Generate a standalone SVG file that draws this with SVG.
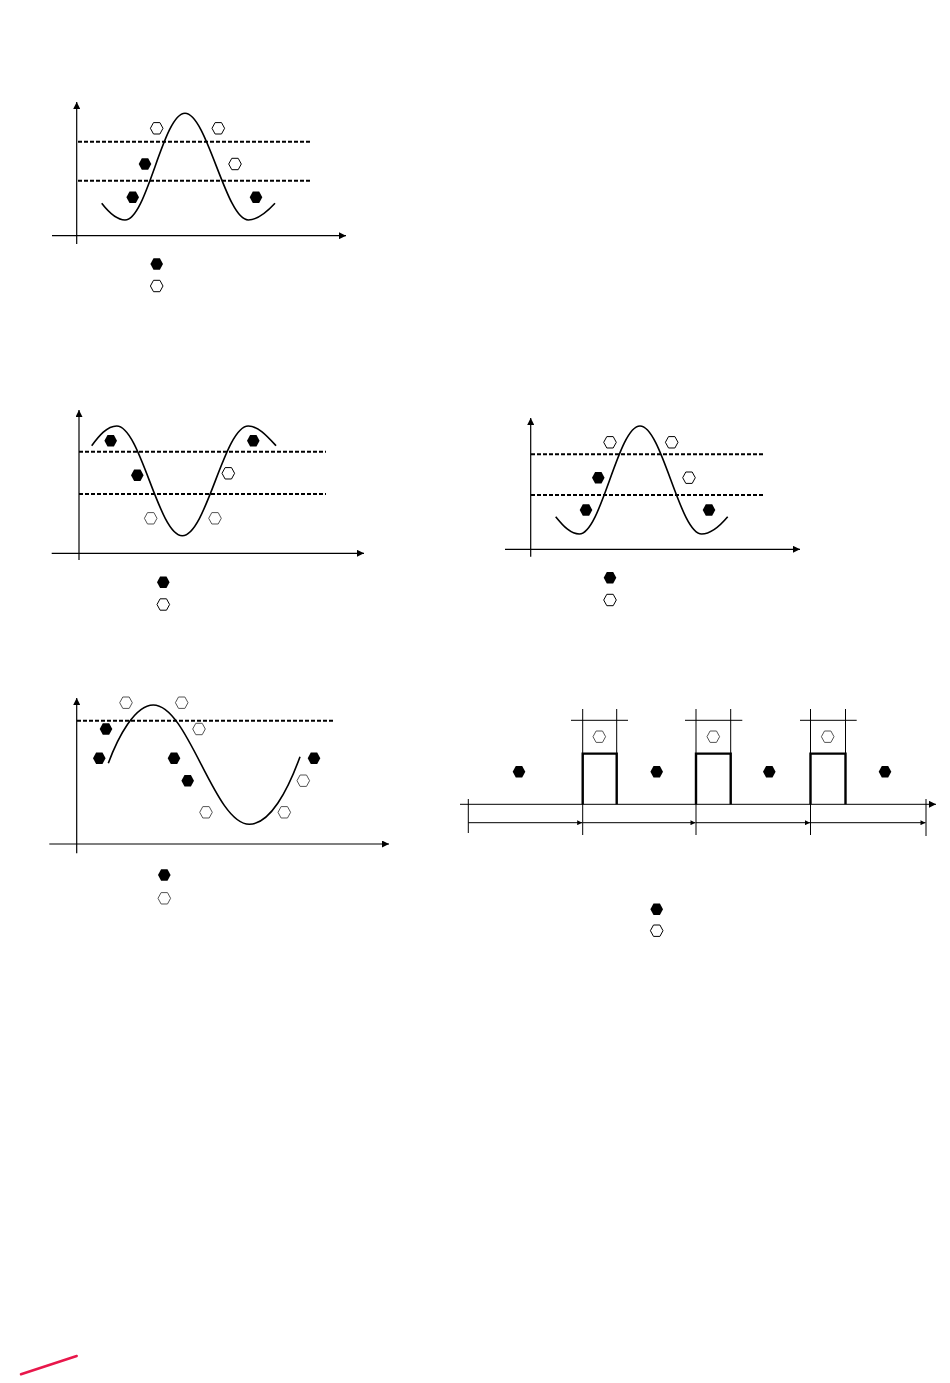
<svg xmlns="http://www.w3.org/2000/svg" xmlns:xlink="http://www.w3.org/1999/xlink" width="950" height="1383" viewBox="0 0 950 1383">
<style>
.ax{stroke:#000;stroke-width:1.2;fill:none}
.dash{stroke:#000;stroke-width:2;stroke-dasharray:4 2;fill:none}
.crv{stroke:#000;stroke-width:1.6;fill:none}
.thin{stroke:#000;stroke-width:1;fill:none}
.thick{stroke:#000;stroke-width:2.4;fill:none}
</style>
<defs>
<polygon id="hex" points="-6.3,0 -3.2,-5.7 3.2,-5.7 6.3,0 3.2,5.7 -3.2,5.7"/>
<marker id="ar" viewBox="0 0 10 10" refX="10" refY="5" markerWidth="8" markerHeight="7" markerUnits="userSpaceOnUse" orient="auto"><path d="M0,0 L10,5 L0,10 z" fill="#000"/></marker>
<marker id="ars" viewBox="0 0 10 10" refX="10" refY="5" markerWidth="7" markerHeight="5" markerUnits="userSpaceOnUse" orient="auto"><path d="M0,0 L10,5 L0,10 z" fill="#000"/></marker>
</defs>
<rect width="950" height="1383" fill="#fff"/>

<g id="chart1">
<line class="ax" x1="76.7" y1="244" x2="76.7" y2="102" marker-end="url(#ar)"/>
<line class="ax" x1="52" y1="235.7" x2="346" y2="235.7" marker-end="url(#ar)"/>
<line class="dash" x1="78" y1="141.7" x2="310" y2="141.7"/>
<line class="dash" x1="78" y1="180.7" x2="310" y2="180.7"/>
<path class="crv" d="M101.7,203.3 C110,214 117,220 125,220 C147,220 163,113.3 185,113.3 C207,113.3 226,220 248.3,220 C256,220 266,213 275,203.3"/>
<use xlink:href="#hex" x="156.7" y="128.3" fill="#fff" stroke="#000"/>
<use xlink:href="#hex" x="218.3" y="128.3" fill="#fff" stroke="#000"/>
<use xlink:href="#hex" x="145" y="164" fill="#000"/>
<use xlink:href="#hex" x="235" y="164" fill="#fff" stroke="#000"/>
<use xlink:href="#hex" x="132.7" y="197.3" fill="#000"/>
<use xlink:href="#hex" x="256" y="197.3" fill="#000"/>
<use xlink:href="#hex" x="156.7" y="264" fill="#000"/>
<use xlink:href="#hex" x="156.7" y="286" fill="#fff" stroke="#000"/>
</g>

<g id="chart2">
<line class="ax" x1="79" y1="560" x2="79" y2="410" marker-end="url(#ar)"/>
<line class="ax" x1="51.7" y1="553.3" x2="364" y2="553.3" marker-end="url(#ar)"/>
<line class="dash" x1="79" y1="451.7" x2="326" y2="451.7"/>
<line class="dash" x1="79" y1="494" x2="326" y2="494"/>
<path class="crv" d="M91.7,445.7 C99,436 107,426 116.7,426 C140.5,426 158.5,535.7 182.3,535.7 C206.3,535.7 224.3,426 248.3,426 C258,426 267,436 276,445.7"/>
<use xlink:href="#hex" x="110.7" y="440.7" fill="#000"/>
<use xlink:href="#hex" x="253.3" y="440.7" fill="#000"/>
<use xlink:href="#hex" x="137.3" y="475.3" fill="#000"/>
<use xlink:href="#hex" x="228.3" y="473.3" fill="#fff" stroke="#000"/>
<use xlink:href="#hex" x="150.7" y="518.3" fill="#fff" stroke="#555"/>
<use xlink:href="#hex" x="215" y="518.3" fill="#fff" stroke="#555"/>
<use xlink:href="#hex" x="163.3" y="582.3" fill="#000"/>
<use xlink:href="#hex" x="163.3" y="604.5" fill="#fff" stroke="#000"/>
</g>

<g id="chart3">
<line class="ax" x1="530.7" y1="556.7" x2="530.7" y2="418" marker-end="url(#ar)"/>
<line class="ax" x1="505" y1="549.3" x2="800" y2="549.3" marker-end="url(#ar)"/>
<line class="dash" x1="531" y1="454.3" x2="764" y2="454.3"/>
<line class="dash" x1="531" y1="495" x2="764" y2="495"/>
<path class="crv" d="M555.7,516.7 C564,527 571,534 579.3,534 C601.3,534 618,426 640,426 C662,426 679.7,534 701.7,534 C710,534 719,527 727.7,516.7"/>
<use xlink:href="#hex" x="610" y="442.3" fill="#fff" stroke="#000"/>
<use xlink:href="#hex" x="671.7" y="442.3" fill="#fff" stroke="#000"/>
<use xlink:href="#hex" x="598.3" y="477.7" fill="#000"/>
<use xlink:href="#hex" x="689" y="477.7" fill="#fff" stroke="#000"/>
<use xlink:href="#hex" x="586" y="510" fill="#000"/>
<use xlink:href="#hex" x="709" y="510" fill="#000"/>
<use xlink:href="#hex" x="610" y="577.7" fill="#000"/>
<use xlink:href="#hex" x="610" y="600" fill="#fff" stroke="#000"/>
</g>

<g id="chart4">
<line class="ax" x1="76.7" y1="853.3" x2="76.7" y2="698" marker-end="url(#ar)"/>
<line class="ax" x1="49.3" y1="844" x2="389" y2="844" marker-end="url(#ar)"/>
<line class="dash" x1="77" y1="720.7" x2="333" y2="720.7"/>
<path class="crv" d="M108.3,763.3 C118,737 135,705 153.3,705 C188.3,705 214.3,824.3 249.3,824.3 C270,824.3 288,790 300,756.7"/>
<use xlink:href="#hex" x="126" y="702.7" fill="#fff" stroke="#555"/>
<use xlink:href="#hex" x="181.7" y="702.7" fill="#fff" stroke="#555"/>
<use xlink:href="#hex" x="106" y="729" fill="#000"/>
<use xlink:href="#hex" x="199" y="729" fill="#fff" stroke="#555"/>
<use xlink:href="#hex" x="99.3" y="758.3" fill="#000"/>
<use xlink:href="#hex" x="174" y="758.3" fill="#000"/>
<use xlink:href="#hex" x="314" y="758.3" fill="#000"/>
<use xlink:href="#hex" x="187.7" y="780.7" fill="#000"/>
<use xlink:href="#hex" x="303.3" y="780.7" fill="#fff" stroke="#555"/>
<use xlink:href="#hex" x="206" y="812.3" fill="#fff" stroke="#555"/>
<use xlink:href="#hex" x="284.3" y="812.3" fill="#fff" stroke="#555"/>
<use xlink:href="#hex" x="164.3" y="875" fill="#000"/>
<use xlink:href="#hex" x="164.3" y="898.3" fill="#fff" stroke="#555"/>
</g>

<g id="chart5">
<line class="thin" x1="460" y1="804.3" x2="936" y2="804.3" marker-end="url(#ar)"/>
<line class="thin" x1="468.3" y1="799" x2="468.3" y2="833"/>
<line class="thin" x1="926" y1="799" x2="926" y2="836"/>
<line class="thin" x1="582.7" y1="709" x2="582.7" y2="835"/>
<line class="thin" x1="696" y1="709" x2="696" y2="835"/>
<line class="thin" x1="810.5" y1="709" x2="810.5" y2="835"/>
<line class="thin" x1="616.7" y1="709" x2="616.7" y2="754"/>
<line class="thin" x1="730.7" y1="709" x2="730.7" y2="754"/>
<line class="thin" x1="845.5" y1="709" x2="845.5" y2="754"/>
<line class="thin" x1="571" y1="720.3" x2="628" y2="720.3"/>
<line class="thin" x1="685" y1="720.3" x2="742.3" y2="720.3"/>
<line class="thin" x1="800" y1="720.3" x2="856.7" y2="720.3"/>
<path class="thick" d="M582.7,804.3 V753.6 H616.7 V804.3"/>
<path class="thick" d="M696,804.3 V753.6 H730.7 V804.3"/>
<path class="thick" d="M810.5,804.3 V753.6 H845.5 V804.3"/>
<use xlink:href="#hex" x="599.3" y="736.7" fill="#fff" stroke="#555"/>
<use xlink:href="#hex" x="713.3" y="736.7" fill="#fff" stroke="#555"/>
<use xlink:href="#hex" x="827.7" y="736.7" fill="#fff" stroke="#555"/>
<use xlink:href="#hex" x="519" y="771.7" fill="#000"/>
<use xlink:href="#hex" x="656.7" y="771.7" fill="#000"/>
<use xlink:href="#hex" x="769.3" y="771.7" fill="#000"/>
<use xlink:href="#hex" x="885" y="771.7" fill="#000"/>
<use xlink:href="#hex" x="656.7" y="909.3" fill="#000"/>
<use xlink:href="#hex" x="656.7" y="930.7" fill="#fff" stroke="#000"/>
</g>

<g id="connectors">
<line class="thin" x1="468.3" y1="822.7" x2="582.2" y2="822.7" marker-end="url(#ars)"/>
<line class="thin" x1="582.7" y1="822.7" x2="695.5" y2="822.7" marker-end="url(#ars)"/>
<line class="thin" x1="696" y1="822.7" x2="810" y2="822.7" marker-end="url(#ars)"/>
<line class="thin" x1="810.5" y1="822.7" x2="925.5" y2="822.7" marker-end="url(#ars)"/>
</g>

<line x1="21" y1="1374.3" x2="76.7" y2="1356" stroke="#e8174b" stroke-width="2.5" stroke-linecap="round"/>
</svg>
